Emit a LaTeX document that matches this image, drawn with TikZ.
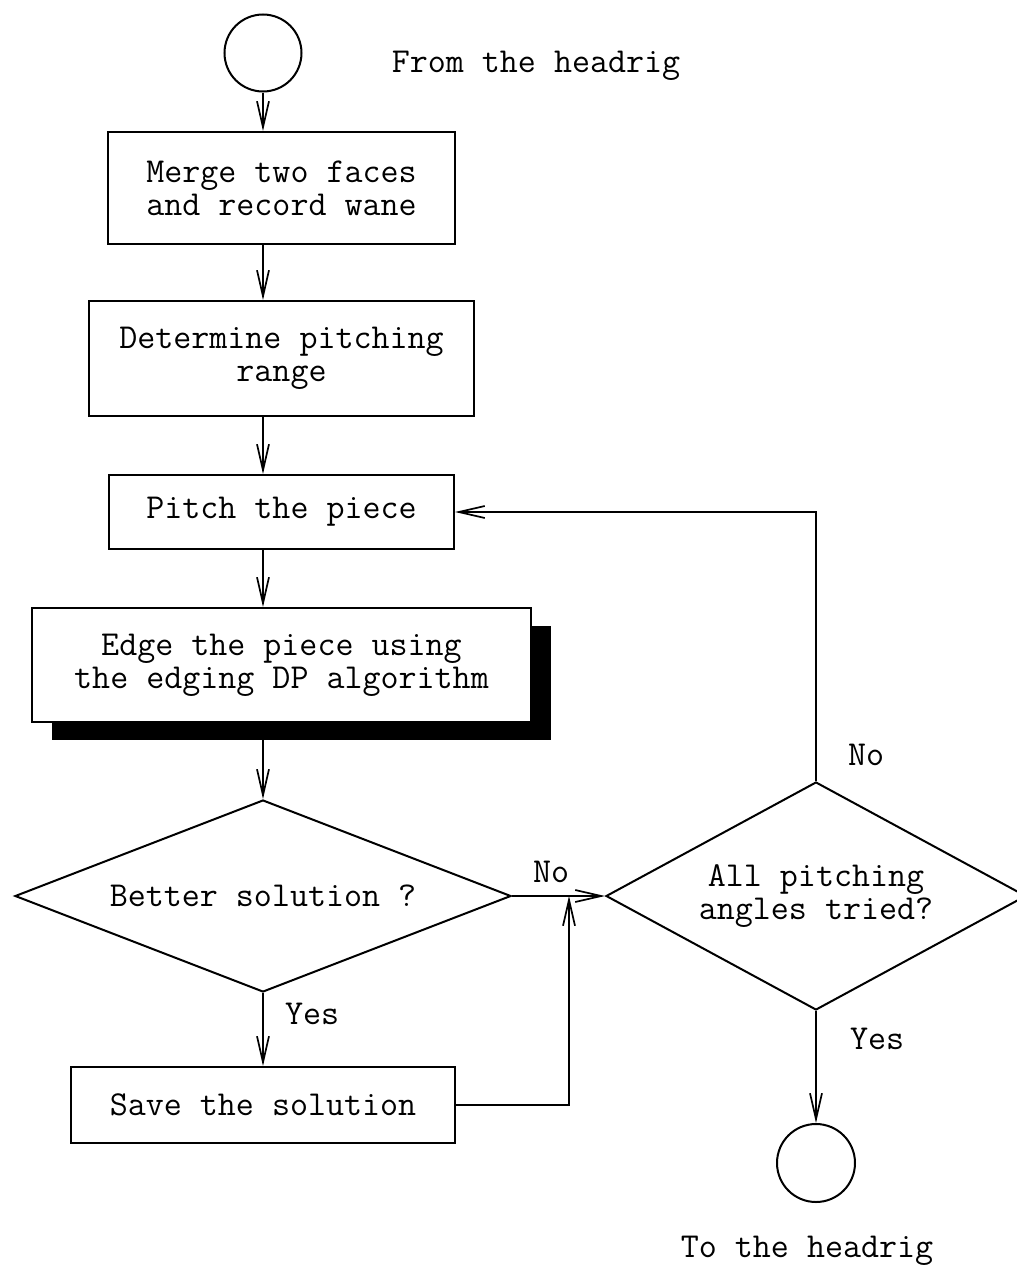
\documentclass[tikz,border=0pt]{standalone}
\usepackage{fontspec}
\usetikzlibrary{shapes.geometric,arrows.meta,shadows,positioning}

\tikzset{
  txt/.style={font=\ttfamily\fontsize{35pt}{33pt}\selectfont},
  flowbox/.style={txt, draw, rectangle, line width=2pt, align=center},
  decision/.style={txt, draw, diamond, line width=2pt, inner sep=0pt, align=center},
  terminal/.style={draw, circle, line width=2pt, inner sep=0pt},
  branch/.style={txt},
  arr/.style={-{Straight Barb[length=26pt,width=12pt]}, line width=1.7pt}
}

\begin{document}
\begin{tikzpicture}[node distance=2cm]
        \useasboundingbox (-263pt,53pt) rectangle (754pt,-1213pt);

        \node (start) [terminal, minimum size=77pt] at (0,0) {};
        \node (fromtxt) [txt, anchor=base] at (273pt,-19pt) {From the headrig};
        \node (merge) [flowbox, below of=start, node distance=135pt, xshift=18.5pt, minimum width=347pt, minimum height=112pt] {Merge two faces\\and record wane};
        \node (range) [flowbox, below of=merge, node distance=170.5pt, minimum width=384pt, minimum height=115pt] {Determine pitching\\range};
        \node (pitch) [flowbox, below of=range, node distance=153.5pt, minimum width=345pt, minimum height=74pt] {Pitch the piece};
        \node (edge) [flowbox, below of=pitch, node distance=153pt, minimum width=499pt, minimum height=114pt, fill=white,
          drop shadow={shadow xshift=20pt, shadow yshift=-18pt, fill=black, opacity=1}] {Edge the piece using\\the edging DP algorithm};
        \node (better) [decision, below of=edge, node distance=231pt, xshift=-18.5pt, aspect=2.58, minimum width=496pt, minimum height=192pt] {Better solution ?};
        \node (save) [flowbox, below of=better, node distance=209pt, minimum width=384pt, minimum height=76pt] {Save the solution};
        \node (tried) [decision, right of=better, node distance=553pt, aspect=1.84, minimum width=420pt, minimum height=228pt] {All pitching\\angles tried?};
        \node (stop) [terminal, below of=tried, node distance=267pt, minimum size=78pt] {};
        \node (totxt) [txt, anchor=base] at (544pt,-1204pt) {To the headrig};
        \coordinate (join) at ([xshift=57pt]better.east);

        \draw[arr] (start) -- (start |- merge.north);
        \draw[arr] (merge.south -| start) -- (range.north -| start);
        \draw[arr] (range.south -| start) -- (pitch.north -| start);
        \draw[arr] (pitch.south -| start) -- (edge.north -| start);
        \draw[arr] (edge.south -| start) -- (better);
        \draw[arr] (better) -- node[branch, pos=0.42, above=9pt] {No} (tried);
        \draw[arr] (better) -- node[branch, pos=0.28, right=18pt] {Yes} (save);
        \draw[arr] (save.east) -| (join);
        \draw[arr] (tried) |- node[branch, pos=0.048, right=28pt] {No} (pitch);
        \draw[arr] (tried) -- node[branch, pos=0.25, right=30pt] {Yes} (stop);
    \end{tikzpicture}
\end{document}
